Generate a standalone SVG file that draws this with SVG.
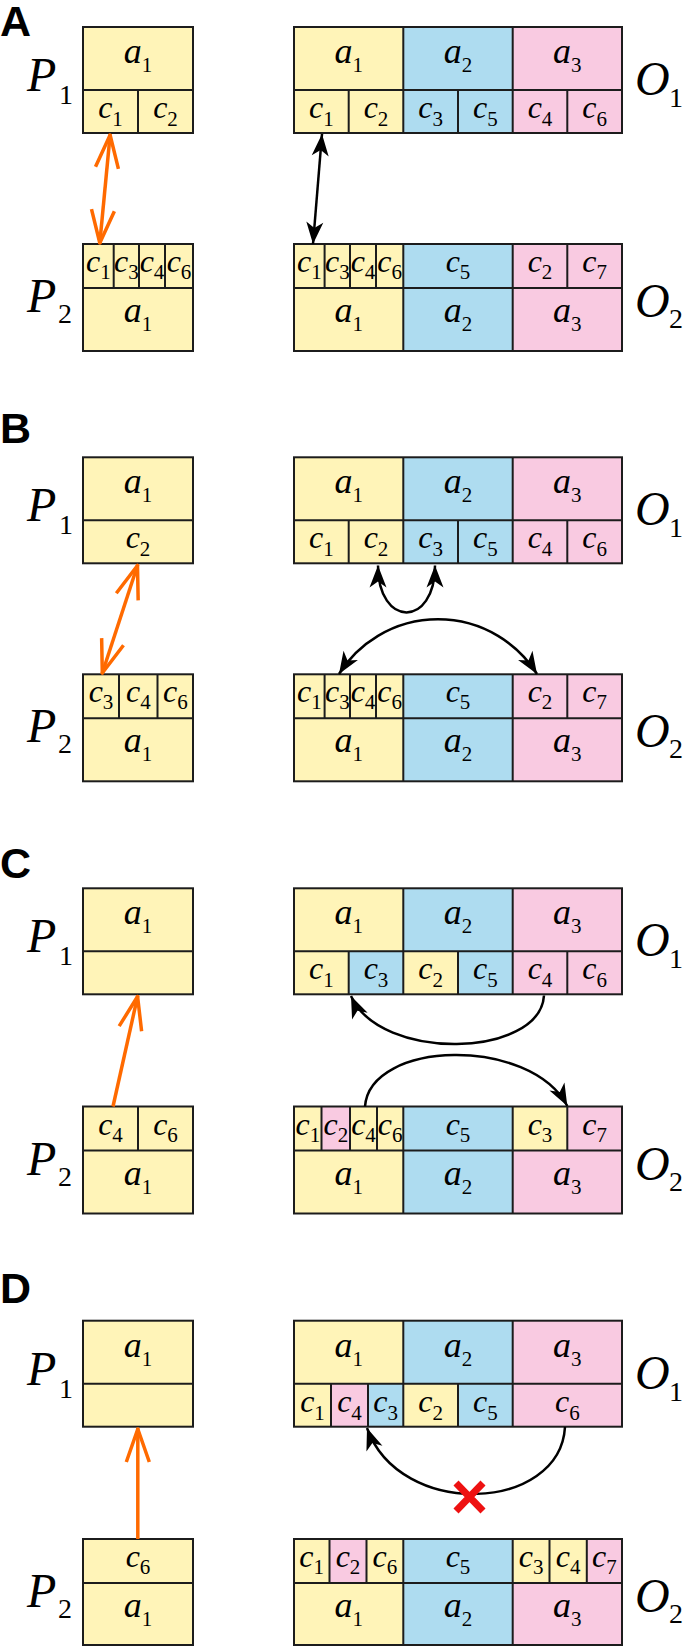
<svg xmlns="http://www.w3.org/2000/svg" width="685" height="1646" viewBox="0 0 685 1646">
<defs>
<marker id="oh" markerUnits="userSpaceOnUse" viewBox="-40 -16 44 32" refX="1" refY="0" markerWidth="44" markerHeight="32" orient="auto-start-reverse" overflow="visible">
<path d="M-33,-11.5 L0,0 L-33,11.5" fill="none" stroke="#FF6A00" stroke-width="3.5" stroke-linejoin="round"/>
</marker>
<marker id="bh" markerUnits="userSpaceOnUse" viewBox="-24 -10 26 20" refX="0" refY="0" markerWidth="26" markerHeight="20" orient="auto-start-reverse" overflow="visible">
<path d="M0,0 L-22,-8.5 L-16,0 L-22,8.5 Z" fill="#000"/>
</marker>
</defs>
<rect width="685" height="1646" fill="#fff"/>

<text style="font-family:'Liberation Sans';font-weight:bold;font-size:43px" x="0" y="36">A</text>
<text style="font-family:'Liberation Sans';font-weight:bold;font-size:43px" x="0" y="443">B</text>
<text style="font-family:'Liberation Sans';font-weight:bold;font-size:43px" x="0" y="878">C</text>
<text style="font-family:'Liberation Sans';font-weight:bold;font-size:43px" x="0" y="1303">D</text>

<g id="A-P1" transform="translate(0,27)">
<text style="font-family:'Liberation Serif';font-style:italic;font-size:48px" x="27" y="64">P</text><text style="font-family:'Liberation Serif';font-size:28px" x="59" y="77">1</text>
<rect fill="#FFF4B8" x="83" y="0" width="110" height="106"/>
<path fill="none" stroke="#1c1c1c" stroke-width="2" d="M83,63H193 M138,63V106"/>
<rect fill="none" stroke="#1c1c1c" stroke-width="2" x="83" y="0" width="110" height="106"/>
<text style="font-family:'Liberation Serif';font-style:italic;font-size:36px" x="138" y="36" text-anchor="middle">a<tspan style="font-style:normal;font-size:21px" dy="9">1</tspan></text>
<text style="font-family:'Liberation Serif';font-style:italic;font-size:32px" x="110.5" y="91" text-anchor="middle">c<tspan style="font-style:normal;font-size:21px" dy="8">1</tspan></text>
<text style="font-family:'Liberation Serif';font-style:italic;font-size:32px" x="165.5" y="91" text-anchor="middle">c<tspan style="font-style:normal;font-size:21px" dy="8">2</tspan></text>
</g>
<g id="A-O1" transform="translate(0,27)">
<rect fill="#FFF4B8" x="294" y="0" width="109.3" height="106"/>
<rect fill="#AEDCF0" x="403.3" y="0" width="109.4" height="106"/>
<rect fill="#F9CAE1" x="512.7" y="0" width="109.3" height="106"/>
<path fill="none" stroke="#1c1c1c" stroke-width="2" d="M294,63H622 M403.3,0V106 M512.7,0V106 M348.7,63V106 M458,63V106 M567.3,63V106"/>
<rect fill="none" stroke="#1c1c1c" stroke-width="2" x="294" y="0" width="328" height="106"/>
<text style="font-family:'Liberation Serif';font-style:italic;font-size:36px" x="348.7" y="36" text-anchor="middle">a<tspan style="font-style:normal;font-size:21px" dy="9">1</tspan></text>
<text style="font-family:'Liberation Serif';font-style:italic;font-size:36px" x="458" y="36" text-anchor="middle">a<tspan style="font-style:normal;font-size:21px" dy="9">2</tspan></text>
<text style="font-family:'Liberation Serif';font-style:italic;font-size:36px" x="567.3" y="36" text-anchor="middle">a<tspan style="font-style:normal;font-size:21px" dy="9">3</tspan></text>
<text style="font-family:'Liberation Serif';font-style:italic;font-size:32px" x="321.3" y="91" text-anchor="middle">c<tspan style="font-style:normal;font-size:21px" dy="8">1</tspan></text>
<text style="font-family:'Liberation Serif';font-style:italic;font-size:32px" x="376" y="91" text-anchor="middle">c<tspan style="font-style:normal;font-size:21px" dy="8">2</tspan></text>
<text style="font-family:'Liberation Serif';font-style:italic;font-size:32px" x="430.7" y="91" text-anchor="middle">c<tspan style="font-style:normal;font-size:21px" dy="8">3</tspan></text>
<text style="font-family:'Liberation Serif';font-style:italic;font-size:32px" x="485.3" y="91" text-anchor="middle">c<tspan style="font-style:normal;font-size:21px" dy="8">5</tspan></text>
<text style="font-family:'Liberation Serif';font-style:italic;font-size:32px" x="540" y="91" text-anchor="middle">c<tspan style="font-style:normal;font-size:21px" dy="8">4</tspan></text>
<text style="font-family:'Liberation Serif';font-style:italic;font-size:32px" x="594.7" y="91" text-anchor="middle">c<tspan style="font-style:normal;font-size:21px" dy="8">6</tspan></text>
<text style="font-family:'Liberation Serif';font-style:italic;font-size:48px" x="635" y="68">O</text><text style="font-family:'Liberation Serif';font-size:28px" x="669" y="80">1</text>
</g>
<g id="A-P2" transform="translate(0,244)">
<text style="font-family:'Liberation Serif';font-style:italic;font-size:48px" x="27" y="68">P</text><text style="font-family:'Liberation Serif';font-size:28px" x="58" y="79">2</text>
<rect fill="#FFF4B8" x="83" y="0" width="110" height="107"/>
<path fill="none" stroke="#1c1c1c" stroke-width="2" d="M83,44H193 M113.7,0V44 M139,0V44 M165,0V44"/>
<rect fill="none" stroke="#1c1c1c" stroke-width="2" x="83" y="0" width="110" height="107"/>
<text style="font-family:'Liberation Serif';font-style:italic;font-size:32px" x="98.3" y="28" text-anchor="middle">c<tspan style="font-style:normal;font-size:21px" dy="7">1</tspan></text>
<text style="font-family:'Liberation Serif';font-style:italic;font-size:32px" x="126.3" y="28" text-anchor="middle">c<tspan style="font-style:normal;font-size:21px" dy="7">3</tspan></text>
<text style="font-family:'Liberation Serif';font-style:italic;font-size:32px" x="152" y="28" text-anchor="middle">c<tspan style="font-style:normal;font-size:21px" dy="7">4</tspan></text>
<text style="font-family:'Liberation Serif';font-style:italic;font-size:32px" x="179" y="28" text-anchor="middle">c<tspan style="font-style:normal;font-size:21px" dy="7">6</tspan></text>
<text style="font-family:'Liberation Serif';font-style:italic;font-size:36px" x="138" y="78" text-anchor="middle">a<tspan style="font-style:normal;font-size:21px" dy="9">1</tspan></text>
</g>
<g id="A-O2" transform="translate(0,244)">
<rect fill="#FFF4B8" x="294" y="0" width="109.3" height="107"/>
<rect fill="#AEDCF0" x="403.3" y="0" width="109.4" height="107"/>
<rect fill="#F9CAE1" x="512.7" y="0" width="109.3" height="107"/>
<path fill="none" stroke="#1c1c1c" stroke-width="2" d="M294,44H622 M403.3,0V107 M512.7,0V107 M324.6,0V44 M350,0V44 M376,0V44 M567.3,0V44"/>
<rect fill="none" stroke="#1c1c1c" stroke-width="2" x="294" y="0" width="328" height="107"/>
<text style="font-family:'Liberation Serif';font-style:italic;font-size:32px" x="309.3" y="28" text-anchor="middle">c<tspan style="font-style:normal;font-size:21px" dy="7">1</tspan></text>
<text style="font-family:'Liberation Serif';font-style:italic;font-size:32px" x="337.3" y="28" text-anchor="middle">c<tspan style="font-style:normal;font-size:21px" dy="7">3</tspan></text>
<text style="font-family:'Liberation Serif';font-style:italic;font-size:32px" x="363" y="28" text-anchor="middle">c<tspan style="font-style:normal;font-size:21px" dy="7">4</tspan></text>
<text style="font-family:'Liberation Serif';font-style:italic;font-size:32px" x="389.7" y="28" text-anchor="middle">c<tspan style="font-style:normal;font-size:21px" dy="7">6</tspan></text>
<text style="font-family:'Liberation Serif';font-style:italic;font-size:32px" x="458" y="28" text-anchor="middle">c<tspan style="font-style:normal;font-size:21px" dy="7">5</tspan></text>
<text style="font-family:'Liberation Serif';font-style:italic;font-size:32px" x="540" y="28" text-anchor="middle">c<tspan style="font-style:normal;font-size:21px" dy="7">2</tspan></text>
<text style="font-family:'Liberation Serif';font-style:italic;font-size:32px" x="594.7" y="28" text-anchor="middle">c<tspan style="font-style:normal;font-size:21px" dy="7">7</tspan></text>
<text style="font-family:'Liberation Serif';font-style:italic;font-size:36px" x="348.7" y="78" text-anchor="middle">a<tspan style="font-style:normal;font-size:21px" dy="9">1</tspan></text>
<text style="font-family:'Liberation Serif';font-style:italic;font-size:36px" x="458" y="78" text-anchor="middle">a<tspan style="font-style:normal;font-size:21px" dy="9">2</tspan></text>
<text style="font-family:'Liberation Serif';font-style:italic;font-size:36px" x="567.3" y="78" text-anchor="middle">a<tspan style="font-style:normal;font-size:21px" dy="9">3</tspan></text>
<text style="font-family:'Liberation Serif';font-style:italic;font-size:48px" x="635" y="73">O</text><text style="font-family:'Liberation Serif';font-size:28px" x="669" y="84">2</text>
</g>

<g id="B-P1" transform="translate(0,457.3)">
<text style="font-family:'Liberation Serif';font-style:italic;font-size:48px" x="27" y="64">P</text><text style="font-family:'Liberation Serif';font-size:28px" x="59" y="77">1</text>
<rect fill="#FFF4B8" x="83" y="0" width="110" height="106"/>
<path fill="none" stroke="#1c1c1c" stroke-width="2" d="M83,63H193"/>
<rect fill="none" stroke="#1c1c1c" stroke-width="2" x="83" y="0" width="110" height="106"/>
<text style="font-family:'Liberation Serif';font-style:italic;font-size:36px" x="138" y="36" text-anchor="middle">a<tspan style="font-style:normal;font-size:21px" dy="9">1</tspan></text>
<text style="font-family:'Liberation Serif';font-style:italic;font-size:32px" x="138" y="91" text-anchor="middle">c<tspan style="font-style:normal;font-size:21px" dy="8">2</tspan></text>
</g>
<g id="B-O1" transform="translate(0,457.3)">
<rect fill="#FFF4B8" x="294" y="0" width="109.3" height="106"/>
<rect fill="#AEDCF0" x="403.3" y="0" width="109.4" height="106"/>
<rect fill="#F9CAE1" x="512.7" y="0" width="109.3" height="106"/>
<path fill="none" stroke="#1c1c1c" stroke-width="2" d="M294,63H622 M403.3,0V106 M512.7,0V106 M348.7,63V106 M458,63V106 M567.3,63V106"/>
<rect fill="none" stroke="#1c1c1c" stroke-width="2" x="294" y="0" width="328" height="106"/>
<text style="font-family:'Liberation Serif';font-style:italic;font-size:36px" x="348.7" y="36" text-anchor="middle">a<tspan style="font-style:normal;font-size:21px" dy="9">1</tspan></text>
<text style="font-family:'Liberation Serif';font-style:italic;font-size:36px" x="458" y="36" text-anchor="middle">a<tspan style="font-style:normal;font-size:21px" dy="9">2</tspan></text>
<text style="font-family:'Liberation Serif';font-style:italic;font-size:36px" x="567.3" y="36" text-anchor="middle">a<tspan style="font-style:normal;font-size:21px" dy="9">3</tspan></text>
<text style="font-family:'Liberation Serif';font-style:italic;font-size:32px" x="321.3" y="91" text-anchor="middle">c<tspan style="font-style:normal;font-size:21px" dy="8">1</tspan></text>
<text style="font-family:'Liberation Serif';font-style:italic;font-size:32px" x="376" y="91" text-anchor="middle">c<tspan style="font-style:normal;font-size:21px" dy="8">2</tspan></text>
<text style="font-family:'Liberation Serif';font-style:italic;font-size:32px" x="430.7" y="91" text-anchor="middle">c<tspan style="font-style:normal;font-size:21px" dy="8">3</tspan></text>
<text style="font-family:'Liberation Serif';font-style:italic;font-size:32px" x="485.3" y="91" text-anchor="middle">c<tspan style="font-style:normal;font-size:21px" dy="8">5</tspan></text>
<text style="font-family:'Liberation Serif';font-style:italic;font-size:32px" x="540" y="91" text-anchor="middle">c<tspan style="font-style:normal;font-size:21px" dy="8">4</tspan></text>
<text style="font-family:'Liberation Serif';font-style:italic;font-size:32px" x="594.7" y="91" text-anchor="middle">c<tspan style="font-style:normal;font-size:21px" dy="8">6</tspan></text>
<text style="font-family:'Liberation Serif';font-style:italic;font-size:48px" x="635" y="68">O</text><text style="font-family:'Liberation Serif';font-size:28px" x="669" y="80">1</text>
</g>
<g id="B-P2" transform="translate(0,674.3)">
<text style="font-family:'Liberation Serif';font-style:italic;font-size:48px" x="27" y="68">P</text><text style="font-family:'Liberation Serif';font-size:28px" x="58" y="79">2</text>
<rect fill="#FFF4B8" x="83" y="0" width="110" height="107"/>
<path fill="none" stroke="#1c1c1c" stroke-width="2" d="M83,44H193 M119,0V44 M157.5,0V44"/>
<rect fill="none" stroke="#1c1c1c" stroke-width="2" x="83" y="0" width="110" height="107"/>
<text style="font-family:'Liberation Serif';font-style:italic;font-size:32px" x="101" y="28" text-anchor="middle">c<tspan style="font-style:normal;font-size:21px" dy="7">3</tspan></text>
<text style="font-family:'Liberation Serif';font-style:italic;font-size:32px" x="138.3" y="28" text-anchor="middle">c<tspan style="font-style:normal;font-size:21px" dy="7">4</tspan></text>
<text style="font-family:'Liberation Serif';font-style:italic;font-size:32px" x="175.3" y="28" text-anchor="middle">c<tspan style="font-style:normal;font-size:21px" dy="7">6</tspan></text>
<text style="font-family:'Liberation Serif';font-style:italic;font-size:36px" x="138" y="78" text-anchor="middle">a<tspan style="font-style:normal;font-size:21px" dy="9">1</tspan></text>
</g>
<g id="B-O2" transform="translate(0,674.3)">
<rect fill="#FFF4B8" x="294" y="0" width="109.3" height="107"/>
<rect fill="#AEDCF0" x="403.3" y="0" width="109.4" height="107"/>
<rect fill="#F9CAE1" x="512.7" y="0" width="109.3" height="107"/>
<path fill="none" stroke="#1c1c1c" stroke-width="2" d="M294,44H622 M403.3,0V107 M512.7,0V107 M324.6,0V44 M350,0V44 M376,0V44 M567.3,0V44"/>
<rect fill="none" stroke="#1c1c1c" stroke-width="2" x="294" y="0" width="328" height="107"/>
<text style="font-family:'Liberation Serif';font-style:italic;font-size:32px" x="309.3" y="28" text-anchor="middle">c<tspan style="font-style:normal;font-size:21px" dy="7">1</tspan></text>
<text style="font-family:'Liberation Serif';font-style:italic;font-size:32px" x="337.3" y="28" text-anchor="middle">c<tspan style="font-style:normal;font-size:21px" dy="7">3</tspan></text>
<text style="font-family:'Liberation Serif';font-style:italic;font-size:32px" x="363" y="28" text-anchor="middle">c<tspan style="font-style:normal;font-size:21px" dy="7">4</tspan></text>
<text style="font-family:'Liberation Serif';font-style:italic;font-size:32px" x="389.7" y="28" text-anchor="middle">c<tspan style="font-style:normal;font-size:21px" dy="7">6</tspan></text>
<text style="font-family:'Liberation Serif';font-style:italic;font-size:32px" x="458" y="28" text-anchor="middle">c<tspan style="font-style:normal;font-size:21px" dy="7">5</tspan></text>
<text style="font-family:'Liberation Serif';font-style:italic;font-size:32px" x="540" y="28" text-anchor="middle">c<tspan style="font-style:normal;font-size:21px" dy="7">2</tspan></text>
<text style="font-family:'Liberation Serif';font-style:italic;font-size:32px" x="594.7" y="28" text-anchor="middle">c<tspan style="font-style:normal;font-size:21px" dy="7">7</tspan></text>
<text style="font-family:'Liberation Serif';font-style:italic;font-size:36px" x="348.7" y="78" text-anchor="middle">a<tspan style="font-style:normal;font-size:21px" dy="9">1</tspan></text>
<text style="font-family:'Liberation Serif';font-style:italic;font-size:36px" x="458" y="78" text-anchor="middle">a<tspan style="font-style:normal;font-size:21px" dy="9">2</tspan></text>
<text style="font-family:'Liberation Serif';font-style:italic;font-size:36px" x="567.3" y="78" text-anchor="middle">a<tspan style="font-style:normal;font-size:21px" dy="9">3</tspan></text>
<text style="font-family:'Liberation Serif';font-style:italic;font-size:48px" x="635" y="73">O</text><text style="font-family:'Liberation Serif';font-size:28px" x="669" y="84">2</text>
</g>

<g id="C-P1" transform="translate(0,888.3)">
<text style="font-family:'Liberation Serif';font-style:italic;font-size:48px" x="27" y="64">P</text><text style="font-family:'Liberation Serif';font-size:28px" x="59" y="77">1</text>
<rect fill="#FFF4B8" x="83" y="0" width="110" height="106"/>
<path fill="none" stroke="#1c1c1c" stroke-width="2" d="M83,63H193"/>
<rect fill="none" stroke="#1c1c1c" stroke-width="2" x="83" y="0" width="110" height="106"/>
<text style="font-family:'Liberation Serif';font-style:italic;font-size:36px" x="138" y="36" text-anchor="middle">a<tspan style="font-style:normal;font-size:21px" dy="9">1</tspan></text>
</g>
<g id="C-O1" transform="translate(0,888.3)">
<rect fill="#FFF4B8" x="294" y="0" width="109.3" height="106"/>
<rect fill="#AEDCF0" x="403.3" y="0" width="109.4" height="106"/>
<rect fill="#F9CAE1" x="512.7" y="0" width="109.3" height="106"/>
<rect fill="#AEDCF0" x="348.7" y="63" width="54.6" height="43"/>
<rect fill="#FFF4B8" x="403.3" y="63" width="54.7" height="43"/>
<path fill="none" stroke="#1c1c1c" stroke-width="2" d="M294,63H622 M403.3,0V106 M512.7,0V106 M348.7,63V106 M458,63V106 M567.3,63V106"/>
<rect fill="none" stroke="#1c1c1c" stroke-width="2" x="294" y="0" width="328" height="106"/>
<text style="font-family:'Liberation Serif';font-style:italic;font-size:36px" x="348.7" y="36" text-anchor="middle">a<tspan style="font-style:normal;font-size:21px" dy="9">1</tspan></text>
<text style="font-family:'Liberation Serif';font-style:italic;font-size:36px" x="458" y="36" text-anchor="middle">a<tspan style="font-style:normal;font-size:21px" dy="9">2</tspan></text>
<text style="font-family:'Liberation Serif';font-style:italic;font-size:36px" x="567.3" y="36" text-anchor="middle">a<tspan style="font-style:normal;font-size:21px" dy="9">3</tspan></text>
<text style="font-family:'Liberation Serif';font-style:italic;font-size:32px" x="321.3" y="91" text-anchor="middle">c<tspan style="font-style:normal;font-size:21px" dy="8">1</tspan></text>
<text style="font-family:'Liberation Serif';font-style:italic;font-size:32px" x="376" y="91" text-anchor="middle">c<tspan style="font-style:normal;font-size:21px" dy="8">3</tspan></text>
<text style="font-family:'Liberation Serif';font-style:italic;font-size:32px" x="430.7" y="91" text-anchor="middle">c<tspan style="font-style:normal;font-size:21px" dy="8">2</tspan></text>
<text style="font-family:'Liberation Serif';font-style:italic;font-size:32px" x="485.3" y="91" text-anchor="middle">c<tspan style="font-style:normal;font-size:21px" dy="8">5</tspan></text>
<text style="font-family:'Liberation Serif';font-style:italic;font-size:32px" x="540" y="91" text-anchor="middle">c<tspan style="font-style:normal;font-size:21px" dy="8">4</tspan></text>
<text style="font-family:'Liberation Serif';font-style:italic;font-size:32px" x="594.7" y="91" text-anchor="middle">c<tspan style="font-style:normal;font-size:21px" dy="8">6</tspan></text>
<text style="font-family:'Liberation Serif';font-style:italic;font-size:48px" x="635" y="68">O</text><text style="font-family:'Liberation Serif';font-size:28px" x="669" y="80">1</text>
</g>
<g id="C-P2" transform="translate(0,1106.5)">
<text style="font-family:'Liberation Serif';font-style:italic;font-size:48px" x="27" y="68">P</text><text style="font-family:'Liberation Serif';font-size:28px" x="58" y="79">2</text>
<rect fill="#FFF4B8" x="83" y="0" width="110" height="107"/>
<path fill="none" stroke="#1c1c1c" stroke-width="2" d="M83,44H193 M138,0V44"/>
<rect fill="none" stroke="#1c1c1c" stroke-width="2" x="83" y="0" width="110" height="107"/>
<text style="font-family:'Liberation Serif';font-style:italic;font-size:32px" x="110.5" y="28" text-anchor="middle">c<tspan style="font-style:normal;font-size:21px" dy="7">4</tspan></text>
<text style="font-family:'Liberation Serif';font-style:italic;font-size:32px" x="165.5" y="28" text-anchor="middle">c<tspan style="font-style:normal;font-size:21px" dy="7">6</tspan></text>
<text style="font-family:'Liberation Serif';font-style:italic;font-size:36px" x="138" y="78" text-anchor="middle">a<tspan style="font-style:normal;font-size:21px" dy="9">1</tspan></text>
</g>
<g id="C-O2" transform="translate(0,1106.5)">
<rect fill="#FFF4B8" x="294" y="0" width="109.3" height="107"/>
<rect fill="#AEDCF0" x="403.3" y="0" width="109.4" height="107"/>
<rect fill="#F9CAE1" x="512.7" y="0" width="109.3" height="107"/>
<rect fill="#F9CAE1" x="321.5" y="0" width="28.5" height="44"/>
<rect fill="#FFF4B8" x="512.7" y="0" width="54.6" height="44"/>
<path fill="none" stroke="#1c1c1c" stroke-width="2" d="M294,44H622 M403.3,0V107 M512.7,0V107 M321.5,0V44 M350,0V44 M377,0V44 M567.3,0V44"/>
<rect fill="none" stroke="#1c1c1c" stroke-width="2" x="294" y="0" width="328" height="107"/>
<text style="font-family:'Liberation Serif';font-style:italic;font-size:32px" x="307.8" y="28" text-anchor="middle">c<tspan style="font-style:normal;font-size:21px" dy="7">1</tspan></text>
<text style="font-family:'Liberation Serif';font-style:italic;font-size:32px" x="335.8" y="28" text-anchor="middle">c<tspan style="font-style:normal;font-size:21px" dy="7">2</tspan></text>
<text style="font-family:'Liberation Serif';font-style:italic;font-size:32px" x="363.5" y="28" text-anchor="middle">c<tspan style="font-style:normal;font-size:21px" dy="7">4</tspan></text>
<text style="font-family:'Liberation Serif';font-style:italic;font-size:32px" x="390.2" y="28" text-anchor="middle">c<tspan style="font-style:normal;font-size:21px" dy="7">6</tspan></text>
<text style="font-family:'Liberation Serif';font-style:italic;font-size:32px" x="458" y="28" text-anchor="middle">c<tspan style="font-style:normal;font-size:21px" dy="7">5</tspan></text>
<text style="font-family:'Liberation Serif';font-style:italic;font-size:32px" x="540" y="28" text-anchor="middle">c<tspan style="font-style:normal;font-size:21px" dy="7">3</tspan></text>
<text style="font-family:'Liberation Serif';font-style:italic;font-size:32px" x="594.7" y="28" text-anchor="middle">c<tspan style="font-style:normal;font-size:21px" dy="7">7</tspan></text>
<text style="font-family:'Liberation Serif';font-style:italic;font-size:36px" x="348.7" y="78" text-anchor="middle">a<tspan style="font-style:normal;font-size:21px" dy="9">1</tspan></text>
<text style="font-family:'Liberation Serif';font-style:italic;font-size:36px" x="458" y="78" text-anchor="middle">a<tspan style="font-style:normal;font-size:21px" dy="9">2</tspan></text>
<text style="font-family:'Liberation Serif';font-style:italic;font-size:36px" x="567.3" y="78" text-anchor="middle">a<tspan style="font-style:normal;font-size:21px" dy="9">3</tspan></text>
<text style="font-family:'Liberation Serif';font-style:italic;font-size:48px" x="635" y="73">O</text><text style="font-family:'Liberation Serif';font-size:28px" x="669" y="84">2</text>
</g>

<g id="D-P1" transform="translate(0,1320.7)">
<text style="font-family:'Liberation Serif';font-style:italic;font-size:48px" x="27" y="64">P</text><text style="font-family:'Liberation Serif';font-size:28px" x="59" y="77">1</text>
<rect fill="#FFF4B8" x="83" y="0" width="110" height="106"/>
<path fill="none" stroke="#1c1c1c" stroke-width="2" d="M83,63H193"/>
<rect fill="none" stroke="#1c1c1c" stroke-width="2" x="83" y="0" width="110" height="106"/>
<text style="font-family:'Liberation Serif';font-style:italic;font-size:36px" x="138" y="36" text-anchor="middle">a<tspan style="font-style:normal;font-size:21px" dy="9">1</tspan></text>
</g>
<g id="D-O1" transform="translate(0,1320.7)">
<rect fill="#FFF4B8" x="294" y="0" width="109.3" height="106"/>
<rect fill="#AEDCF0" x="403.3" y="0" width="109.4" height="106"/>
<rect fill="#F9CAE1" x="512.7" y="0" width="109.3" height="106"/>
<rect fill="#F9CAE1" x="331" y="63" width="37" height="43"/>
<rect fill="#AEDCF0" x="368" y="63" width="35.3" height="43"/>
<rect fill="#FFF4B8" x="403.3" y="63" width="54.7" height="43"/>
<path fill="none" stroke="#1c1c1c" stroke-width="2" d="M294,63H622 M403.3,0V106 M512.7,0V106 M331,63V106 M368,63V106 M458,63V106"/>
<rect fill="none" stroke="#1c1c1c" stroke-width="2" x="294" y="0" width="328" height="106"/>
<text style="font-family:'Liberation Serif';font-style:italic;font-size:36px" x="348.7" y="36" text-anchor="middle">a<tspan style="font-style:normal;font-size:21px" dy="9">1</tspan></text>
<text style="font-family:'Liberation Serif';font-style:italic;font-size:36px" x="458" y="36" text-anchor="middle">a<tspan style="font-style:normal;font-size:21px" dy="9">2</tspan></text>
<text style="font-family:'Liberation Serif';font-style:italic;font-size:36px" x="567.3" y="36" text-anchor="middle">a<tspan style="font-style:normal;font-size:21px" dy="9">3</tspan></text>
<text style="font-family:'Liberation Serif';font-style:italic;font-size:32px" x="312.5" y="91" text-anchor="middle">c<tspan style="font-style:normal;font-size:21px" dy="8">1</tspan></text>
<text style="font-family:'Liberation Serif';font-style:italic;font-size:32px" x="349.5" y="91" text-anchor="middle">c<tspan style="font-style:normal;font-size:21px" dy="8">4</tspan></text>
<text style="font-family:'Liberation Serif';font-style:italic;font-size:32px" x="385.7" y="91" text-anchor="middle">c<tspan style="font-style:normal;font-size:21px" dy="8">3</tspan></text>
<text style="font-family:'Liberation Serif';font-style:italic;font-size:32px" x="430.7" y="91" text-anchor="middle">c<tspan style="font-style:normal;font-size:21px" dy="8">2</tspan></text>
<text style="font-family:'Liberation Serif';font-style:italic;font-size:32px" x="485.3" y="91" text-anchor="middle">c<tspan style="font-style:normal;font-size:21px" dy="8">5</tspan></text>
<text style="font-family:'Liberation Serif';font-style:italic;font-size:32px" x="567.3" y="91" text-anchor="middle">c<tspan style="font-style:normal;font-size:21px" dy="8">6</tspan></text>
<text style="font-family:'Liberation Serif';font-style:italic;font-size:48px" x="635" y="68">O</text><text style="font-family:'Liberation Serif';font-size:28px" x="669" y="80">1</text>
</g>
<g id="D-P2" transform="translate(0,1539)">
<text style="font-family:'Liberation Serif';font-style:italic;font-size:48px" x="27" y="68">P</text><text style="font-family:'Liberation Serif';font-size:28px" x="58" y="79">2</text>
<rect fill="#FFF4B8" x="83" y="0" width="110" height="106"/>
<path fill="none" stroke="#1c1c1c" stroke-width="2" d="M83,44H193"/>
<rect fill="none" stroke="#1c1c1c" stroke-width="2" x="83" y="0" width="110" height="106"/>
<text style="font-family:'Liberation Serif';font-style:italic;font-size:32px" x="138" y="28" text-anchor="middle">c<tspan style="font-style:normal;font-size:21px" dy="7">6</tspan></text>
<text style="font-family:'Liberation Serif';font-style:italic;font-size:36px" x="138" y="78" text-anchor="middle">a<tspan style="font-style:normal;font-size:21px" dy="9">1</tspan></text>
</g>
<g id="D-O2" transform="translate(0,1539)">
<rect fill="#FFF4B8" x="294" y="0" width="109.3" height="106"/>
<rect fill="#AEDCF0" x="403.3" y="0" width="109.4" height="106"/>
<rect fill="#F9CAE1" x="512.7" y="0" width="109.3" height="106"/>
<rect fill="#F9CAE1" x="329.5" y="0" width="37" height="44"/>
<rect fill="#FFF4B8" x="512.7" y="0" width="74.1" height="44"/>
<path fill="none" stroke="#1c1c1c" stroke-width="2" d="M294,44H622 M403.3,0V106 M512.7,0V106 M329.5,0V44 M366.5,0V44 M549.5,0V44 M586.8,0V44"/>
<rect fill="none" stroke="#1c1c1c" stroke-width="2" x="294" y="0" width="328" height="106"/>
<text style="font-family:'Liberation Serif';font-style:italic;font-size:32px" x="311.7" y="28" text-anchor="middle">c<tspan style="font-style:normal;font-size:21px" dy="7">1</tspan></text>
<text style="font-family:'Liberation Serif';font-style:italic;font-size:32px" x="348" y="28" text-anchor="middle">c<tspan style="font-style:normal;font-size:21px" dy="7">2</tspan></text>
<text style="font-family:'Liberation Serif';font-style:italic;font-size:32px" x="384.9" y="28" text-anchor="middle">c<tspan style="font-style:normal;font-size:21px" dy="7">6</tspan></text>
<text style="font-family:'Liberation Serif';font-style:italic;font-size:32px" x="458" y="28" text-anchor="middle">c<tspan style="font-style:normal;font-size:21px" dy="7">5</tspan></text>
<text style="font-family:'Liberation Serif';font-style:italic;font-size:32px" x="531.1" y="28" text-anchor="middle">c<tspan style="font-style:normal;font-size:21px" dy="7">3</tspan></text>
<text style="font-family:'Liberation Serif';font-style:italic;font-size:32px" x="568.2" y="28" text-anchor="middle">c<tspan style="font-style:normal;font-size:21px" dy="7">4</tspan></text>
<text style="font-family:'Liberation Serif';font-style:italic;font-size:32px" x="604.4" y="28" text-anchor="middle">c<tspan style="font-style:normal;font-size:21px" dy="7">7</tspan></text>
<text style="font-family:'Liberation Serif';font-style:italic;font-size:36px" x="348.7" y="78" text-anchor="middle">a<tspan style="font-style:normal;font-size:21px" dy="9">1</tspan></text>
<text style="font-family:'Liberation Serif';font-style:italic;font-size:36px" x="458" y="78" text-anchor="middle">a<tspan style="font-style:normal;font-size:21px" dy="9">2</tspan></text>
<text style="font-family:'Liberation Serif';font-style:italic;font-size:36px" x="567.3" y="78" text-anchor="middle">a<tspan style="font-style:normal;font-size:21px" dy="9">3</tspan></text>
<text style="font-family:'Liberation Serif';font-style:italic;font-size:48px" x="635" y="73">O</text><text style="font-family:'Liberation Serif';font-size:28px" x="669" y="84">2</text>
</g>

<g id="connectors">
<path fill="none" stroke="#FF6A00" stroke-width="3.5" d="M110.2,134 L99.7,244" marker-start="url(#oh)" marker-end="url(#oh)"/>
<path fill="none" stroke="#000" stroke-width="2.5" d="M322,134 L313,244" marker-start="url(#bh)" marker-end="url(#bh)"/>
<path fill="none" stroke="#FF6A00" stroke-width="3.5" d="M137.8,564.5 L102,674" marker-start="url(#oh)" marker-end="url(#oh)"/>
<path fill="none" stroke="#000" stroke-width="2.5" d="M378,565.5 C378,628 435,628 435,565.5" marker-start="url(#bh)" marker-end="url(#bh)"/>
<path fill="none" stroke="#000" stroke-width="2.5" d="M339,674 A117,117 0 0 1 537,674" marker-start="url(#bh)" marker-end="url(#bh)"/>
<path fill="none" stroke="#FF6A00" stroke-width="3.5" d="M113,1106.5 L137.8,995.5" marker-end="url(#oh)"/>
<path fill="none" stroke="#000" stroke-width="2.5" d="M544,995.5 C540,1058 380,1062 351,996" marker-end="url(#bh)"/>
<path fill="none" stroke="#000" stroke-width="2.5" d="M365,1106.5 C370,1040 530,1036 567.3,1106" marker-end="url(#bh)"/>
<path fill="none" stroke="#FF6A00" stroke-width="3.5" d="M137.8,1539 L137.8,1428" marker-end="url(#oh)"/>
<path fill="none" stroke="#000" stroke-width="2.5" d="M565,1427 C560,1512 400,1520 367,1428" marker-end="url(#bh)"/>
<path fill="none" stroke="#EE1111" stroke-width="7" d="M456,1483 L483,1511 M483,1483 L456,1511"/>
</g>
</svg>
